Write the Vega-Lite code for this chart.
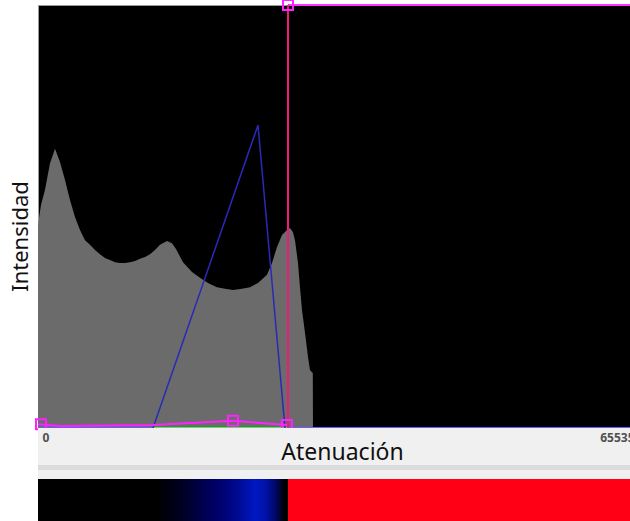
{
  "$schema": "https://vega.github.io/schema/vega-lite/v6.json",
  "padding": {"left": 8, "top": -5, "right": 0, "bottom": 0},
  "background": "white",
  "spacing": 0,
  "bounds": "flush",
  "config": {"view": {"stroke": null}, "font": "Noto Sans"},
  "datasets": {
    "histogram": [
      {"attenuation": 0, "count": 480},
      {"attenuation": 332, "count": 527},
      {"attenuation": 775, "count": 563},
      {"attenuation": 1328, "count": 626},
      {"attenuation": 1882, "count": 660},
      {"attenuation": 2435, "count": 629},
      {"attenuation": 2989, "count": 586},
      {"attenuation": 3542, "count": 539},
      {"attenuation": 4096, "count": 499},
      {"attenuation": 4649, "count": 468},
      {"attenuation": 5203, "count": 444},
      {"attenuation": 5756, "count": 433},
      {"attenuation": 6310, "count": 421},
      {"attenuation": 6863, "count": 411},
      {"attenuation": 7417, "count": 402},
      {"attenuation": 7970, "count": 397},
      {"attenuation": 8524, "count": 392},
      {"attenuation": 9077, "count": 390},
      {"attenuation": 9631, "count": 390},
      {"attenuation": 10184, "count": 392},
      {"attenuation": 10738, "count": 395},
      {"attenuation": 11291, "count": 400},
      {"attenuation": 11845, "count": 404},
      {"attenuation": 12398, "count": 411},
      {"attenuation": 12952, "count": 421},
      {"attenuation": 13505, "count": 433},
      {"attenuation": 14280, "count": 442},
      {"attenuation": 14834, "count": 437},
      {"attenuation": 15277, "count": 423},
      {"attenuation": 16052, "count": 392},
      {"attenuation": 17048, "count": 369},
      {"attenuation": 17933, "count": 355},
      {"attenuation": 18819, "count": 343},
      {"attenuation": 19815, "count": 333},
      {"attenuation": 20701, "count": 329},
      {"attenuation": 21587, "count": 326},
      {"attenuation": 22583, "count": 329},
      {"attenuation": 23468, "count": 333},
      {"attenuation": 24354, "count": 343},
      {"attenuation": 25350, "count": 362},
      {"attenuation": 25904, "count": 390},
      {"attenuation": 26457, "count": 428},
      {"attenuation": 27011, "count": 456},
      {"attenuation": 27564, "count": 468},
      {"attenuation": 27896, "count": 473},
      {"attenuation": 28229, "count": 463},
      {"attenuation": 28450, "count": 444},
      {"attenuation": 28782, "count": 390},
      {"attenuation": 29003, "count": 333},
      {"attenuation": 29225, "count": 279},
      {"attenuation": 29557, "count": 225},
      {"attenuation": 29889, "count": 168},
      {"attenuation": 30110, "count": 137},
      {"attenuation": 30332, "count": 132},
      {"attenuation": 30420, "count": 130},
      {"attenuation": 30440, "count": 0}
    ],
    "opacity_curve": [
      {"seq": 1, "attenuation": 12731, "value": 0},
      {"seq": 2, "attenuation": 24354, "value": 716},
      {"seq": 3, "attenuation": 27343, "value": 0}
    ],
    "window_span": [
      {"start": 12731, "end": 27675}
    ],
    "color_curve": [
      {"seq": 1, "attenuation": 0, "value": 9},
      {"seq": 2, "attenuation": 2435, "value": 5},
      {"seq": 3, "attenuation": 12731, "value": 7},
      {"seq": 4, "attenuation": 21587, "value": 17},
      {"seq": 5, "attenuation": 27564, "value": 7},
      {"seq": 6, "attenuation": 27675, "value": 0}
    ],
    "upper_curve": [
      {"seq": 1, "attenuation": 27675, "value": 1000},
      {"seq": 2, "attenuation": 65535, "value": 1000}
    ],
    "threshold": [
      {"attenuation": 27675}
    ],
    "control_points": [
      {"attenuation": 332, "value": 9},
      {"attenuation": 21587, "value": 17},
      {"attenuation": 27564, "value": 7},
      {"attenuation": 27675, "value": 1000}
    ],
    "ramp": [
      {"start": 0, "end": 27675}
    ],
    "solid": [
      {"start": 27675, "end": 65535}
    ]
  },
  "vconcat": [
    {
      "width": 592,
      "height": 423,
      "view": {"fill": "black", "stroke": "#9a9a9a", "strokeWidth": 1},
      "layer": [
        {
          "data": {"name": "histogram"},
          "mark": {"type": "area", "color": "#6b6b6b", "interpolate": "linear"},
          "encoding": {
            "x": {"field": "attenuation", "type": "quantitative", "scale": {"domain": [0, 65535], "nice": false, "zero": false}, "axis": null},
            "y": {
              "field": "count", "type": "quantitative",
              "scale": {"domain": [0, 1000], "nice": false},
              "axis": {
                "title": "Intensidad", "labels": false, "ticks": false, "domain": false, "grid": false,
                "titleFont": "Noto Sans", "titleFontSize": 22, "titleFontWeight": "normal", "titleColor": "#111111",
                "titleX": -18, "titleY": 231, "titleAngle": -90, "titleAlign": "center", "titleBaseline": "middle"
              }
            }
          }
        },
        {
          "data": {"name": "threshold"},
          "mark": {"type": "rule", "color": "#6a5cff", "strokeWidth": 2},
          "encoding": {
            "y": {"datum": 0, "type": "quantitative"}
          }
        },
        {
          "data": {"name": "window_span"},
          "mark": {"type": "rule", "color": "#44ee44", "strokeWidth": 2},
          "encoding": {
            "x": {"field": "start", "type": "quantitative"},
            "x2": {"field": "end"},
            "y": {"datum": 0, "type": "quantitative"}
          }
        },
        {
          "data": {"name": "opacity_curve"},
          "mark": {"type": "line", "color": "#2a2ab8", "strokeWidth": 1.5},
          "encoding": {
            "x": {"field": "attenuation", "type": "quantitative"},
            "y": {"field": "value", "type": "quantitative"},
            "order": {"field": "seq"}
          }
        },
        {
          "data": {"name": "color_curve"},
          "mark": {"type": "line", "color": "#ff22ff", "strokeWidth": 2},
          "encoding": {
            "x": {"field": "attenuation", "type": "quantitative"},
            "y": {"field": "value", "type": "quantitative"},
            "order": {"field": "seq"}
          }
        },
        {
          "data": {"name": "upper_curve"},
          "mark": {"type": "line", "color": "#ff33ff", "strokeWidth": 2},
          "encoding": {
            "x": {"field": "attenuation", "type": "quantitative"},
            "y": {"field": "value", "type": "quantitative"},
            "order": {"field": "seq"}
          }
        },
        {
          "data": {"name": "threshold"},
          "mark": {"type": "rule", "color": "#f01a78", "strokeWidth": 2},
          "encoding": {
            "x": {"field": "attenuation", "type": "quantitative"}
          }
        },
        {
          "data": {"name": "control_points"},
          "mark": {"type": "point", "shape": "square", "filled": false, "size": 100, "color": "#ff22ff", "strokeWidth": 2, "opacity": 1},
          "encoding": {
            "x": {"field": "attenuation", "type": "quantitative"},
            "y": {"field": "value", "type": "quantitative"}
          }
        }
      ]
    },
    {
      "width": 592,
      "height": 51,
      "view": {"fill": "#f0f0f0", "stroke": null},
      "data": {"name": "ramp"},
      "mark": {"type": "rect", "color": "#dcdcdc"},
      "encoding": {
        "x": {
          "datum": 0, "type": "quantitative",
          "scale": {"domain": [0, 65535], "nice": false, "zero": false},
          "axis": {
            "orient": "bottom", "offset": -51, "values": [0, 65535], "format": "d",
            "domain": false, "ticks": false, "grid": false, "labelFlush": false,
            "labelAlign": {"condition": {"test": "datum.value == 0", "value": "left"}, "value": "right"},
            "labelOffset": 4, "labelPadding": 4,
            "labelFont": "Noto Sans", "labelFontSize": 12, "labelFontWeight": "bold", "labelColor": "#505050",
            "title": "Atenuación", "titleFont": "Noto Sans", "titleFontSize": 23, "titleFontWeight": "normal", "titleColor": "#111111",
            "titleX": 304, "titleY": 13, "titleAlign": "center", "titleBaseline": "top"
          }
        },
        "x2": {"datum": 65535},
        "y": {"datum": 37, "type": "quantitative", "scale": {"domain": [0, 51], "reverse": true}, "axis": null},
        "y2": {"datum": 42}
      }
    },
    {
      "width": 592,
      "height": 42,
      "view": {"stroke": null},
      "layer": [
        {
          "data": {"name": "ramp"},
          "mark": {
            "type": "rect", "stroke": null,
            "fill": {
              "gradient": "linear", "x1": 0, "x2": 1, "y1": 0, "y2": 0,
              "stops": [
                {"offset": 0, "color": "#000000"},
                {"offset": 0.47, "color": "#000000"},
                {"offset": 0.56, "color": "#00001c"},
                {"offset": 0.64, "color": "#000044"},
                {"offset": 0.72, "color": "#00006a"},
                {"offset": 0.8, "color": "#000a92"},
                {"offset": 0.87, "color": "#0018c4"},
                {"offset": 0.91, "color": "#0012a8"},
                {"offset": 0.95, "color": "#000866"},
                {"offset": 0.985, "color": "#000000"},
                {"offset": 1, "color": "#000000"}
              ]
            }
          },
          "encoding": {
            "x": {"field": "start", "type": "quantitative", "scale": {"domain": [0, 65535], "nice": false, "zero": false}, "axis": null},
            "x2": {"field": "end"}
          }
        },
        {
          "data": {"name": "solid"},
          "mark": {"type": "rect", "color": "#ff0014"},
          "encoding": {
            "x": {"field": "start", "type": "quantitative"},
            "x2": {"field": "end"}
          }
        }
      ]
    }
  ]
}
